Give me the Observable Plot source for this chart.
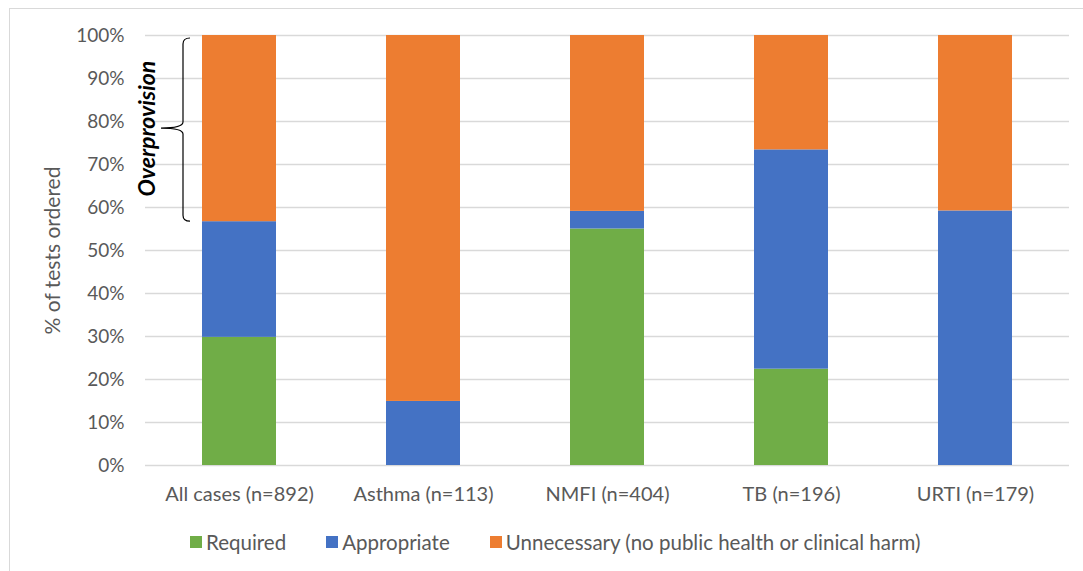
<!DOCTYPE html>
<html>
<head>
<meta charset="utf-8">
<script src="https://cdn.jsdelivr.net/npm/d3@7"></script>
<script src="https://cdn.jsdelivr.net/npm/@observablehq/plot@0.6"></script>
<style>
  html, body { margin: 0; padding: 0; background: #fff; width: 1083px; height: 571px; overflow: hidden; }
  #frame { position: absolute; left: 9px; top: 8px; width: 1200px; height: 700px; border: 1.5px solid #d9d9d9; box-sizing: border-box; }
  #chart { position: absolute; left: 0; top: 0; }
  #legend { position: absolute; left: 190px; top: 530px; display: flex; align-items: center; font-family: Lato, sans-serif; font-size: 20.5px; color: #595959; white-space: nowrap; }
  #legend .item { display: flex; align-items: center; margin-right: 40px; }
  #legend .sw { width: 12px; height: 12px; margin-right: 4px; }
</style>
</head>
<body>
<div id="frame"></div>
<div id="chart"></div>
<div id="legend"></div>
<script>
// Share of tests ordered, by case group (percent)
const categories = ["All cases (n=892)", "Asthma (n=113)", "NMFI (n=404)", "TB (n=196)", "URTI (n=179)"];
const series = ["Required", "Appropriate", "Unnecessary (no public health or clinical harm)"];
const required    = [29.8,  0.0, 55.0, 22.4,  0.0];
const appropriate = [26.9, 14.9,  4.1, 51.0, 59.2];
const unnecessary = [43.3, 85.1, 40.9, 26.6, 40.8];
const seriesColors = ["#70AD47", "#4472C4", "#ED7D31"];
const yTicks = [0, 10, 20, 30, 40, 50, 60, 70, 80, 90, 100];
const bracketLabel = "Overprovision";

// Long-format table for the stacked bars
const valuesBySeries = [required, appropriate, unnecessary];
const rows = [];
series.forEach((s, si) => {
  categories.forEach((c, ci) => rows.push({category: c, series: s, value: valuesBySeries[si][ci]}));
});

// The bracket spans the "Unnecessary" part of the first group
const bracketLow = required[0] + appropriate[0];
const bracketHigh = bracketLow + unnecessary[0];
const bracketMid = (bracketLow + bracketHigh) / 2;

const font = "Lato, sans-serif";
const grey = "#595959";

// Curly brace drawn to the left of the first bar, via the plot's scales
function brace(index, scales) {
  const xs = scales.x, ys = scales.y;
  const xLeft = xs(categories[0]);
  const xr = xLeft - 12, x1 = xLeft - 19, xt = xLeft - 41;
  const y1 = ys(bracketHigh) + 3, y2 = ys(bracketLow), ym = ys(bracketMid);
  const r = 6;
  const d = `M${xr},${y1} Q${x1},${y1} ${x1},${y1 + r} L${x1},${ym - r} Q${x1},${ym} ${xt},${ym}`
          + ` Q${x1},${ym} ${x1},${ym + r} L${x1},${y2 - r} Q${x1},${y2} ${xr},${y2}`;
  const path = d3.create("svg:path")
    .attr("d", d)
    .attr("fill", "none")
    .attr("stroke", "#000")
    .attr("stroke-width", 1.2);
  return path.node();
}

const plot = Plot.plot({
  width: 1083,
  height: 500,
  marginLeft: 145,
  marginRight: 14,
  marginTop: 35,
  marginBottom: 35,
  style: {fontFamily: font, fontSize: "19px", color: grey, background: "transparent", overflow: "visible"},
  x: {domain: categories, paddingInner: 0.6, paddingOuter: 0.3, label: null},
  y: {domain: [0, 100], label: null},
  color: {domain: series, range: seriesColors},
  marks: [
    Plot.gridY(yTicks, {stroke: "#d9d9d9", strokeOpacity: 1, strokeWidth: 1.5}),
    Plot.barY(rows, {x: "category", y: "value", fill: "series", order: null}),
    Plot.axisY({ticks: yTicks, tickSize: 0, tickPadding: 21, tickFormat: d => d + "%", fontSize: 19,
      label: "% of tests ordered", labelAnchor: "center", labelArrow: "none", labelOffset: 100}),
    Plot.axisX({tickSize: 0, tickPadding: 21, fontSize: 20}),
    Plot.text([bracketLabel], {
      x: () => categories[0], y: () => bracketMid, text: d => d,
      rotate: -90, dx: -92, fontWeight: "bold", fontStyle: "italic",
      fontSize: 23, fill: "#000"
    }),
    brace
  ]
});
document.getElementById("chart").appendChild(plot);

// Bigger axis title, as in the original layout
d3.select(plot).selectAll("[aria-label='y-axis label'] text, g[aria-label='y-axis label']").attr("font-size", 21);

// Legend built from the plot's color scale
const colorScale = plot.scale("color");
const legend = d3.select("#legend");
colorScale.domain.forEach((s, i) => {
  const item = legend.append("div").attr("class", "item");
  item.append("div").attr("class", "sw").style("background", colorScale.range[i]);
  item.append("span").text(s);
});
</script>
</body>
</html>
